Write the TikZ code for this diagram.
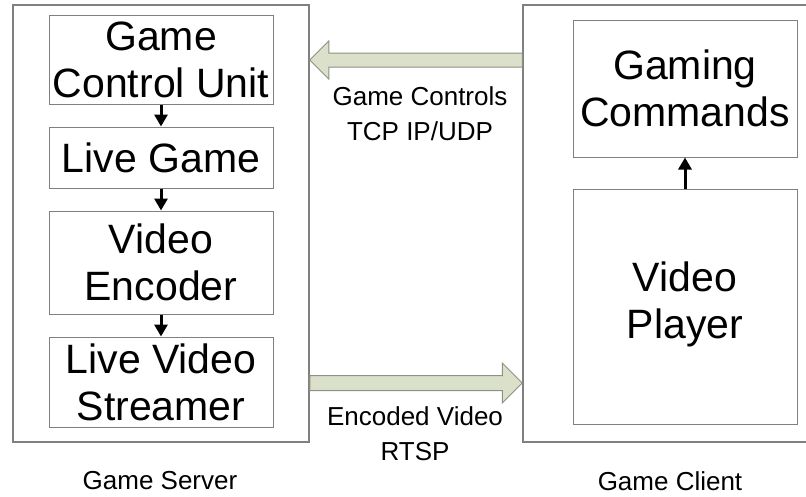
\documentclass[tikz,border=0pt]{standalone}
\usepackage{fontspec}
\setmainfont{Liberation Sans}
\usetikzlibrary{arrows.meta,calc}

\definecolor{boxgray}{RGB}{128,128,128}
\definecolor{pipefill}{RGB}{218,224,202}
\definecolor{pipeline}{RGB}{140,145,130}

\begin{document}
\begin{tikzpicture}
  [x=1pt,y=-1pt,
   outer/.style={draw=boxgray,line width=1.5pt,inner sep=0pt},
   block/.style={draw=boxgray,line width=1pt,minimum width=224pt,inner sep=0pt,
     align=center,font=\fontsize{41}{47}\selectfont},
   tag/.style={align=center,inner sep=0pt,font=\fontsize{26}{35}\selectfont},
   pipe/.style={draw=pipeline,fill=pipefill,line width=1pt},
   flow/.style={-{Triangle[width=13pt,length=12pt]},line width=3pt}]
  \clip (0,0) rectangle (806,496);

  % server and client
  \node[outer,minimum width=296pt,minimum height=437pt] (srv) at (161,223.5) {};
  \node[outer,minimum width=289pt,minimum height=437pt] (cli) at (667.5,223.5) {};

  \node[block,minimum height=89pt] (gcu) at (161,59.5) {Game\\Control Unit};
  \node[block,minimum height=61pt] (live) at (161,157.5) {Live Game};
  \node[block,minimum height=103pt] (enc) at (161,262.5) {Video\\Encoder};
  \node[block,minimum height=90pt] (strm) at (161,382) {Live Video\\Streamer};

  \node[block,minimum height=137pt] (cmd) at (685,88.5) {Gaming\\Commands};
  \node[block,minimum height=235pt,text depth=12pt] (player) at (685,306.5) {Video\\Player};

  \foreach \from/\to in {gcu/live,live/enc,enc/strm,player/cmd}
    \draw[flow] (\from) -- (\to);

  % the two links
  \coordinate (ctl tip) at (srv.east |- 0,60);
  \coordinate (ctl tail) at (cli.west |- 0,60);
  \draw[pipe] ($(ctl tail)+(0,-7)$) -- ($(ctl tip)+(19,-7)$) -- ($(ctl tip)+(19,-19)$)
    -- (ctl tip) -- ($(ctl tip)+(19,19)$) -- ($(ctl tip)+(19,7)$) -- ($(ctl tail)+(0,7)$) -- cycle;

  \coordinate (vid tail) at (srv.east |- 0,383);
  \coordinate (vid tip) at (cli.west |- 0,383);
  \draw[pipe] ($(vid tail)+(0,-7.5)$) -- ($(vid tip)+(-20,-7.5)$) -- ($(vid tip)+(-20,-20)$)
    -- (vid tip) -- ($(vid tip)+(-20,20)$) -- ($(vid tip)+(-20,7.5)$) -- ($(vid tail)+(0,7.5)$) -- cycle;

  \node[tag] (ctl) at (420,114) {Game Controls\\TCP IP/UDP};
  \node[tag] (vid) at (415,434) {Encoded Video\\RTSP};
  \node[tag] (srvname) at (160,481) {Game Server};
  \node[tag] (cliname) at (670,481) {Game Client};

\end{tikzpicture}
\end{document}
